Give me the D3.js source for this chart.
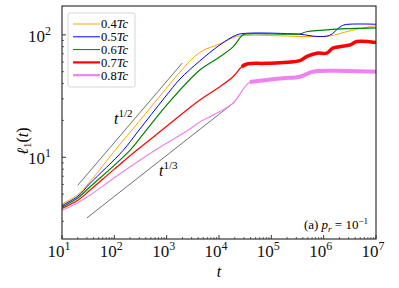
<!DOCTYPE html>
<html>
<head>
<meta charset="utf-8">
<script src="https://cdn.jsdelivr.net/npm/d3@7"></script>
<style>
  body { margin: 0; background: #fff; }
  svg text { font-family: 'Liberation Serif', 'DejaVu Serif', serif; }
</style>
</head>
<body>
<div id="chart"></div>
<script>
// --- Data (t, l1) ---
const seriesLabels = ['0.4', '0.5', '0.6', '0.7', '0.8'];
const l04 = [[10, 4.16], [20, 4.95], [34, 6.3], [103, 11.4], [215, 16.6], [746, 31.6], [1800, 49.7],
  [4300, 71.9], [10400, 84.4], [21000, 96.3], [34000, 99], [167000, 98], [350000, 97],
  [1300000, 98], [3200000, 108], [1e7, 119]];
const l05 = [[10, 4.04], [20, 4.8], [34, 6.09], [148, 11.4], [275, 16.0], [930, 31], [1800, 43.6],
  [4300, 61.2], [10400, 82.8], [22000, 100], [34000, 103], [350000, 101], [740000, 97],
  [1300000, 99], [2050000, 116], [2560000, 121], [1e7, 122]];
const l06 = [[10, 3.93], [20, 4.65], [34, 5.71], [199, 11.4], [358, 15.5], [1000, 26.7], [4300, 51.6],
  [10400, 66.1], [18500, 79.7], [28800, 100], [39000, 102], [350000, 102], [470000, 106],
  [1500000, 111], [1e7, 114]];
const l07 = [[10, 3.82], [20, 4.45], [34, 5.37], [100, 8.0], [267, 11.4], [804, 16.6], [4300, 29.3],
  [10400, 37.7], [18500, 45.5], [27200, 54.9], [34300, 57.8], [81700, 58.6], [350000, 61.5],
  [470000, 66.4], [740000, 70.8], [1140000, 70.8], [1500000, 77.8], [3200000, 82.8],
  [4300000, 88.1], [1e7, 86.4]];
const l08 = [[10, 3.68], [20, 4.25], [34, 4.89], [100, 6.8], [600, 11.4], [2560, 16.6], [4300, 19.4],
  [7700, 22.1], [18500, 27.7], [39000, 41.2], [81700, 42.8], [167000, 44.2], [350000, 45.5],
  [625000, 50.0], [1500000, 50.9], [1e7, 50.0]];
const allSeries = [l04, l05, l06, l07, l08];

// guide power laws
const guideHalf = [[20, 5.9], [2000, 59]];
const guideThird = [[30, 3.2], [20000, 28.3]];

// ticks
const xMajor = [1e1, 1e2, 1e3, 1e4, 1e5, 1e6, 1e7];
const xExp = ['1', '2', '3', '4', '5', '6', '7'];
const yMajor = [10, 100];
const yExp = ['1', '2'];

// --- Styles ---
const colors = ['#ffa500', '#0000ff', '#008000', '#ff0000', '#ee82ee'];
const thinW = [1, 1, 1.2, 1.2, 1.2];
const thickFrom = [null, null, null, 25000, 20000];
const thickW = [0, 0, 0, 3.5, 4];
const legendW = [1, 1, 1, 2.2, 2.2];

const W = 399, H = 288;
const svg = d3.select('#chart').append('svg').attr('width', W).attr('height', H)
  .attr('font-family', "'Liberation Serif', 'DejaVu Serif', serif");

const x = d3.scaleLog().domain([10, 1e7]).range([62, 376]);
const y = d3.scaleLog().domain([2.15, 172]).range([239, 6]);

svg.append('clipPath').attr('id', 'clip').append('rect')
  .attr('x', 62).attr('y', 6).attr('width', 314).attr('height', 233);

const line = d3.line().x(d => x(d[0])).y(d => y(d[1])).curve(d3.curveCatmullRom.alpha(0.5));
const plot = svg.append('g').attr('clip-path', 'url(#clip)');

// guide lines
[guideHalf, guideThird].forEach(g => {
  plot.append('path').datum(g).attr('d', d3.line().x(d => x(d[0])).y(d => y(d[1])))
    .attr('fill', 'none').attr('stroke', '#333').attr('stroke-width', 0.7);
});

// curves
allSeries.forEach((s, i) => {
  plot.append('path').datum(s).attr('d', line)
    .attr('fill', 'none').attr('stroke', colors[i]).attr('stroke-width', thinW[i]);
  if (thickFrom[i]) {
    plot.append('path').datum(s.filter(d => d[0] >= thickFrom[i])).attr('d', line)
      .attr('fill', 'none').attr('stroke', colors[i]).attr('stroke-width', thickW[i]);
  }
});

// frame
svg.append('rect').attr('x', 62).attr('y', 6).attr('width', 314).attr('height', 233)
  .attr('fill', 'none').attr('stroke', '#222').attr('stroke-width', 1.1);

// x ticks
const xMinor = [];
for (let e = 1; e < 7; e++) for (let k = 2; k <= 9; k++) xMinor.push(k * Math.pow(10, e));
const gx = svg.append('g').attr('transform', 'translate(0,239)');
gx.selectAll('.mj').data(xMajor).enter().append('line')
  .attr('x1', d => x(d)).attr('x2', d => x(d)).attr('y1', 0).attr('y2', -4)
  .attr('stroke', '#222').attr('stroke-width', 0.9);
gx.selectAll('.mn').data(xMinor).enter().append('line')
  .attr('x1', d => x(d)).attr('x2', d => x(d)).attr('y1', 0).attr('y2', -2)
  .attr('stroke', '#222').attr('stroke-width', 0.7);
const xl = gx.selectAll('.xl').data(xMajor).enter().append('text')
  .attr('x', d => x(d) - 3).attr('y', 18).attr('text-anchor', 'middle')
  .attr('font-size', 17).attr('fill', '#111');
xl.append('tspan').text('10');
xl.append('tspan').attr('dy', -7).attr('font-size', 12).text((d, i) => xExp[i]);

// y ticks
const yMinor = [3, 4, 5, 6, 7, 8, 9, 20, 30, 40, 50, 60, 70, 80, 90];
const gy = svg.append('g').attr('transform', 'translate(62,0)');
gy.selectAll('.mj').data(yMajor).enter().append('line')
  .attr('y1', d => y(d)).attr('y2', d => y(d)).attr('x1', 0).attr('x2', 4)
  .attr('stroke', '#222').attr('stroke-width', 0.9);
gy.selectAll('.mn').data(yMinor).enter().append('line')
  .attr('y1', d => y(d)).attr('y2', d => y(d)).attr('x1', 0).attr('x2', 2)
  .attr('stroke', '#222').attr('stroke-width', 0.7);
const yl = gy.selectAll('.yl').data(yMajor).enter().append('text')
  .attr('x', -34).attr('y', d => y(d) + 7)
  .attr('font-size', 17).attr('fill', '#111');
yl.append('tspan').text('10');
yl.append('tspan').attr('dy', -7).attr('font-size', 12).text((d, i) => yExp[i]);

// axis labels
svg.append('text').attr('x', 219).attr('y', 277).attr('text-anchor', 'middle')
  .attr('font-size', 16).attr('font-style', 'italic').text('t');
const ylab = svg.append('text').attr('transform', 'translate(28,141) rotate(-90)')
  .attr('text-anchor', 'middle').attr('font-size', 16);
ylab.append('tspan').attr('font-style', 'italic').text('ℓ');
ylab.append('tspan').attr('dy', 3).attr('font-size', 11).text('1');
ylab.append('tspan').attr('dy', -3).text('(');
ylab.append('tspan').attr('font-style', 'italic').text('t');
ylab.append('tspan').text(')');

// guide labels
function powLabel(px, py, exp) {
  const t = svg.append('text').attr('x', px).attr('y', py).attr('font-size', 16);
  t.append('tspan').attr('font-style', 'italic').text('t');
  t.append('tspan').attr('dy', -7).attr('font-size', 11).text(exp);
}
powLabel(114, 124, '1/2');
powLabel(159, 176, '1/3');

// annotation
const ann = svg.append('text').attr('x', 368).attr('y', 229).attr('text-anchor', 'end').attr('font-size', 13);
ann.append('tspan').text('(a) ');
ann.append('tspan').attr('font-style', 'italic').text('p');
ann.append('tspan').attr('dy', 3).attr('font-size', 9).attr('font-style', 'italic').text('r');
ann.append('tspan').attr('dy', -3).text(' = 10');
ann.append('tspan').attr('dy', -5).attr('font-size', 9).text('−1');

// legend
const lg = svg.append('g');
lg.append('rect').attr('x', 68).attr('y', 13).attr('width', 67).attr('height', 74).attr('rx', 2)
  .attr('fill', '#fff').attr('fill-opacity', 0.8).attr('stroke', '#ccc').attr('stroke-width', 0.8);
seriesLabels.forEach((lab, i) => {
  const ly = 24 + i * 12.8;
  lg.append('line').attr('x1', 73).attr('x2', 100).attr('y1', ly).attr('y2', ly)
    .attr('stroke', colors[i]).attr('stroke-width', legendW[i]);
  const t = lg.append('text').attr('x', 101).attr('y', ly + 4.3).attr('font-size', 12.5);
  t.append('tspan').text(lab);
  t.append('tspan').attr('font-style', 'italic').text('Tc');
});
</script>
</body>
</html>
